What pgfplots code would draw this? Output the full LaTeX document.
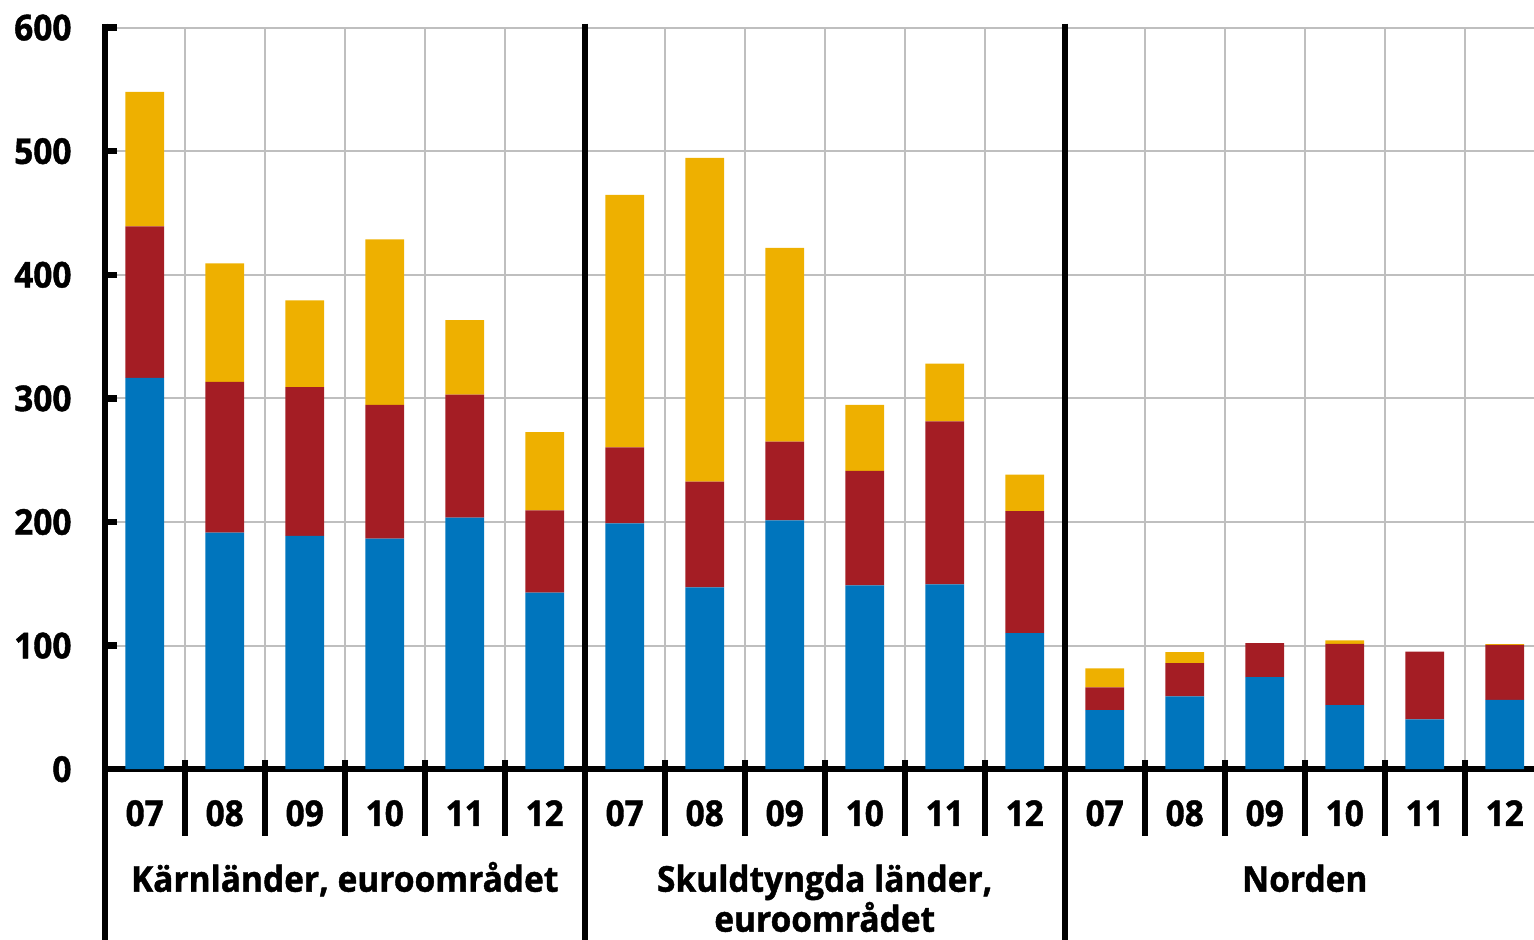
\documentclass[border=0pt]{standalone}
\usepackage{fontspec}
\setmainfont{Open Sans}[FakeStretch=0.94, BoldFeatures={FakeBold=1.2}]
\usepackage{pgfplots}
\pgfplotsset{compat=1.18}
\definecolor{cblue}{RGB}{0,117,189}
\definecolor{cred}{RGB}{164,29,36}
\definecolor{cyel}{RGB}{238,176,0}
\definecolor{cgrid}{RGB}{191,191,191}
\begin{document}
\begin{tikzpicture}[font=\fontsize{17.8}{20}\selectfont\bfseries]
\begin{axis}[
  at={(0pt,0pt)}, anchor=south west,
  scale only axis, width=720pt, height=370.8pt,
  xmin=-0.5, xmax=17.5, ymin=0, ymax=600,
  enlargelimits=false, clip=false,
  ybar stacked, bar width=19.35pt,
  xtick={0,...,17},
  xticklabels={07,08,09,10,11,12,07,08,09,10,11,12,07,08,09,10,11,12},
  minor xtick={0.5,1.5,...,16.5}, xminorgrids,
  ytick={0,100,...,600}, ymajorgrids,
  grid style={cgrid, line width=1pt},
  minor grid style={cgrid, line width=1pt},
  axis x line*=bottom, axis y line*=left,
  axis line style={line width=3pt, black},
  xtick style={draw=none},
  minor tick length=0pt,
  ytick style={line width=3.2pt, black},
  tick align=inside, major tick length=6pt,
  /pgf/number format/assume math mode=true,
  yticklabel style={anchor=east, inner sep=0pt, xshift=-16.4pt},
  xticklabel style={anchor=base, inner sep=0pt, yshift=-28.4pt},
]
\addplot[fill=cblue, draw=none] coordinates {
(0,316.5) (1,191.3) (2,188.7) (3,186.5) (4,203.5) (5,142.8)
(6,198.9) (7,147.2) (8,201.4) (9,148.8) (10,149.6) (11,110.0)
(12,47.7) (13,59.0) (14,74.4) (15,51.9) (16,40.4) (17,56.0)};
\addplot[fill=cred, draw=none] coordinates {
(0,122.7) (1,122.0) (2,120.5) (3,108.2) (4,99.5) (5,66.7)
(6,61.5) (7,85.4) (8,63.6) (9,92.5) (10,131.9) (11,98.7)
(12,18.6) (13,26.9) (14,27.7) (15,49.4) (16,54.7) (17,44.5)};
\addplot[fill=cyel, draw=none] coordinates {
(0,108.7) (1,96.0) (2,70.2) (3,134.0) (4,60.4) (5,63.3)
(6,204.2) (7,261.9) (8,156.7) (9,53.4) (10,46.6) (11,29.6)
(12,15.3) (13,8.9) (14,0) (15,3.0) (16,0) (17,0.6)};
\draw[line width=3.2pt, black] (axis cs:-0.5,0) -- (axis cs:17.5,0);
\pgfplotsinvokeforeach{-0.5,5.5,11.5}{
  \draw[line width=3pt, black] ([yshift=2pt]axis cs:#1,600) -- ([yshift=-90pt]axis cs:#1,0);
}
\pgfplotsinvokeforeach{0.5,1.5,2.5,3.5,4.5,6.5,7.5,8.5,9.5,10.5,12.5,13.5,14.5,15.5,16.5}{
  \draw[line width=2.8pt, black] ([yshift=4.6pt]axis cs:#1,0) -- ([yshift=-33.4pt]axis cs:#1,0);
}
\node[anchor=base, inner sep=0pt, yshift=-61.25pt] at (axis cs:2.5,0) {Kärnländer, euroområdet};
\node[anchor=base, inner sep=0pt, yshift=-61.25pt] at (axis cs:8.5,0) {Skuldtyngda länder,};
\node[anchor=base, inner sep=0pt, yshift=-81.25pt] at (axis cs:8.5,0) {euroområdet};
\node[anchor=base, inner sep=0pt, yshift=-61.25pt] at (axis cs:14.5,0) {Norden};
\end{axis}
\pgfresetboundingbox
\path (-52.35pt,-85.4pt) rectangle (714.65pt,384.6pt);
\end{tikzpicture}
\end{document}
